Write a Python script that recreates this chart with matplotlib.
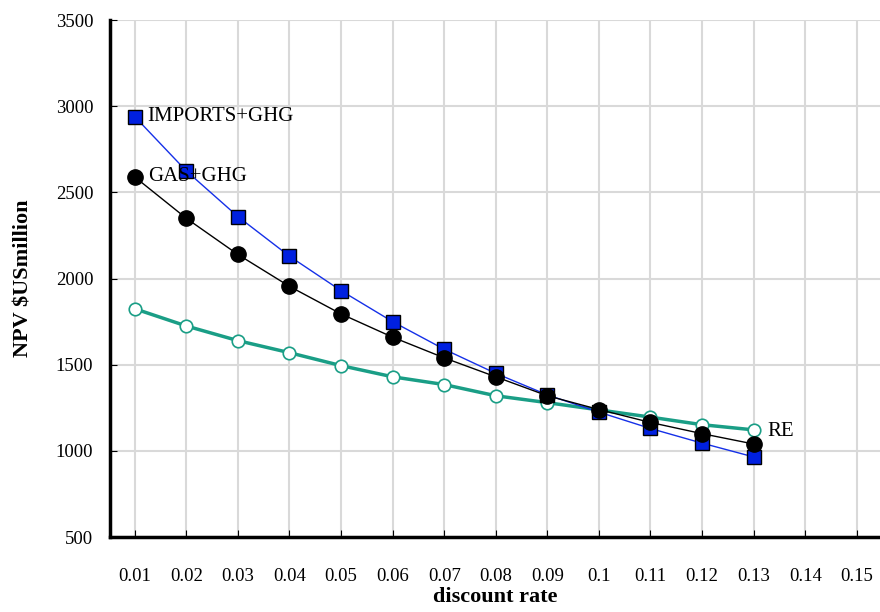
import matplotlib.pyplot as plt

# discount rate vs NPV
rates = [0.01, 0.02, 0.03, 0.04, 0.05, 0.06, 0.07, 0.08, 0.09, 0.10, 0.11, 0.12, 0.13]
imports_ghg = [2940, 2625, 2360, 2130, 1930, 1750, 1590, 1450, 1325, 1225, 1130, 1045, 965]
gas_ghg = [2590, 2350, 2140, 1955, 1795, 1660, 1540, 1430, 1320, 1240, 1165, 1100, 1040]
re = [1825, 1725, 1640, 1570, 1495, 1430, 1385, 1320, 1280, 1238, 1196, 1152, 1122]
xticks = [0.01, 0.02, 0.03, 0.04, 0.05, 0.06, 0.07, 0.08, 0.09, 0.1, 0.11, 0.12, 0.13, 0.14, 0.15]
xlabels = ["0.01", "0.02", "0.03", "0.04", "0.05", "0.06", "0.07", "0.08", "0.09", "0.1",
           "0.11", "0.12", "0.13", "0.14", "0.15"]
yticks = [500, 1000, 1500, 2000, 2500, 3000, 3500]

plt.rcParams['font.family'] = ['Liberation Serif', 'DejaVu Serif']

fig = plt.figure(figsize=(8.8, 6.12), dpi=100)
ax = fig.add_axes([0.125, 0.1225, 0.875, 0.8445])

ax.plot(rates, re, color='#1a9e86', lw=2.5, marker='o', ms=9, mfc='white',
        mec='#1a9e86', mew=1.2, zorder=3)
ax.plot(rates, imports_ghg, color='#1530e8', lw=1, marker='s', ms=10, mfc='#0020e0',
        mec='black', mew=1, zorder=4)
ax.plot(rates, gas_ghg, color='black', lw=1, marker='o', ms=11, mfc='black',
        mec='black', zorder=5)

ax.text(rates[0] + 0.0025, imports_ghg[0], "IMPORTS+GHG", fontsize=15, va='center', zorder=6)
ax.text(rates[0] + 0.0025, gas_ghg[0], "GAS+GHG", fontsize=15, va='center', zorder=6)
ax.text(rates[-1] + 0.0027, re[-1] - 10, "RE", fontsize=15, va='center', zorder=6)

ax.set_xlim(0.0052, 0.1545)
ax.set_ylim(500, 3500)
ax.set_xticks(xticks)
ax.set_xticklabels(xlabels)
ax.set_yticks(yticks)
ax.grid(True, color='#d9d9d9', lw=1.5, zorder=0)
ax.set_axisbelow(True)

for s in ['top', 'right']:
    ax.spines[s].set_visible(False)
for s in ['left', 'bottom']:
    ax.spines[s].set_linewidth(2.5)

ax.tick_params(axis='x', direction='in', length=5, pad=22, labelsize=13.5)
ax.tick_params(axis='y', direction='in', length=5, pad=12, labelsize=13.5)

ax.set_xlabel("discount rate", fontsize=16, fontweight='bold', labelpad=2)
ax.set_ylabel("NPV $USmillion", fontsize=16, fontweight='bold', labelpad=16)

fig.savefig("out.png", dpi=100)
